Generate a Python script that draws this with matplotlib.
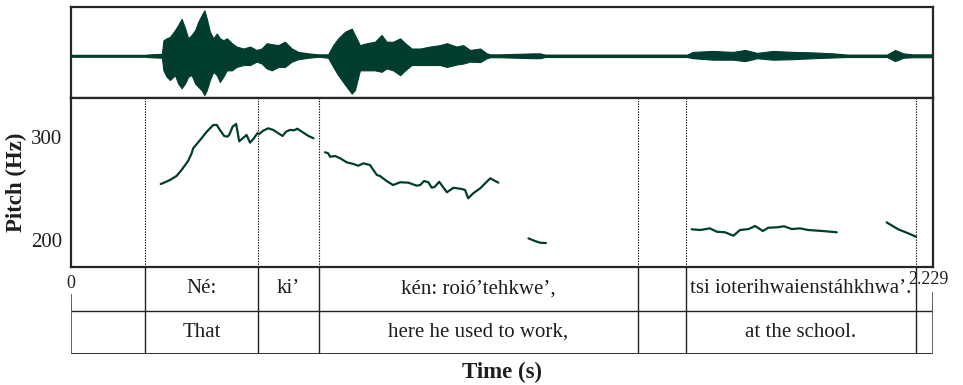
import matplotlib
matplotlib.use('Agg')
import matplotlib.pyplot as plt

plt.rcParams['font.family'] = ['Liberation Serif', 'DejaVu Serif']

# ---------------- data ----------------
DUR = 2.229
boundaries = [0.192, 0.484, 0.640, 1.466, 1.590, 2.185]
tier1_labels = ['', 'Né:', 'ki’', 'kén: roió’tehkwe’,', '', 'tsi ioterihwaienstáhkhwa’.', '']
tier2_labels = ['', 'That', '', 'here he used to work,', '', 'at the school.', '']

wave_t = [0.000, 0.191, 0.204, 0.235, 0.239, 0.247, 0.256, 0.269, 0.277, 0.286, 0.295, 0.303,
          0.312, 0.321, 0.329, 0.338, 0.345, 0.351, 0.359, 0.368, 0.377, 0.385, 0.394, 0.403,
          0.416, 0.428, 0.446, 0.463, 0.480, 0.493, 0.506, 0.519, 0.536, 0.553, 0.571, 0.588,
          0.614, 0.640, 0.665, 0.678, 0.691, 0.709, 0.726, 0.734, 0.747, 0.765, 0.786, 0.803,
          0.816, 0.833, 0.851, 0.864, 0.881, 0.903, 0.928, 0.954, 0.972, 0.997, 1.014, 1.032,
          1.058, 1.075, 1.084, 1.109, 1.195, 1.213, 1.226, 1.368, 1.593, 1.608, 1.660, 1.712,
          1.743, 1.774, 1.815, 1.867, 1.919, 1.971, 2.007, 2.110, 2.131, 2.152, 2.177, 2.229]
wave_top = [0.02, 0.02, 0.03, 0.04, 0.32, 0.36, 0.39, 0.53, 0.63, 0.76, 0.57, 0.36,
            0.43, 0.53, 0.70, 0.84, 0.94, 0.77, 0.50, 0.36, 0.46, 0.36, 0.32, 0.36,
            0.26, 0.19, 0.15, 0.19, 0.12, 0.15, 0.26, 0.24, 0.22, 0.29, 0.15, 0.08,
            0.05, 0.03, 0.03, 0.22, 0.36, 0.50, 0.56, 0.43, 0.22, 0.26, 0.29, 0.43,
            0.29, 0.29, 0.36, 0.26, 0.15, 0.15, 0.19, 0.22, 0.26, 0.19, 0.22, 0.12,
            0.15, 0.05, 0.03, 0.03, 0.05, 0.05, 0.025, 0.025, 0.025, 0.08, 0.10, 0.08,
            0.12, 0.06, 0.10, 0.08, 0.07, 0.05, 0.025, 0.025, 0.12, 0.05, 0.03, 0.03]
wave_bot = [-0.02, -0.02, -0.03, -0.04, -0.30, -0.43, -0.50, -0.40, -0.57, -0.67, -0.57, -0.43,
            -0.40, -0.57, -0.64, -0.71, -0.81, -0.71, -0.50, -0.33, -0.40, -0.54, -0.43, -0.30,
            -0.30, -0.23, -0.19, -0.19, -0.12, -0.16, -0.26, -0.30, -0.23, -0.23, -0.12, -0.07,
            -0.04, -0.02, -0.04, -0.23, -0.40, -0.60, -0.78, -0.71, -0.30, -0.30, -0.30, -0.33,
            -0.26, -0.30, -0.40, -0.30, -0.19, -0.19, -0.19, -0.19, -0.23, -0.18, -0.16, -0.12,
            -0.13, -0.05, -0.03, -0.03, -0.05, -0.05, -0.025, -0.025, -0.025, -0.05, -0.08, -0.08,
            -0.11, -0.05, -0.08, -0.07, -0.05, -0.035, -0.025, -0.025, -0.11, -0.04, -0.03, -0.03]

pitch1_t = [0.232, 0.243, 0.256, 0.273, 0.286, 0.303, 0.312, 0.316, 0.334, 0.351, 0.368, 0.377,
            0.385, 0.396, 0.404, 0.409, 0.418, 0.427, 0.435, 0.454, 0.463, 0.473, 0.482, 0.487,
            0.497, 0.510, 0.523, 0.547, 0.556, 0.566, 0.577, 0.585, 0.597, 0.614, 0.627]
pitch1_hz = [254.2, 255.9, 258.1, 262.0, 267.8, 276.6, 283.9, 288.8, 296.8, 304.8, 311.3, 311.3,
             306.5, 300.7, 300.0, 301.6, 309.7, 312.3, 295.5, 301.6, 294.2, 298.5, 303.3, 302.6,
             305.8, 308.1, 306.5, 300.7, 304.8, 306.5, 306.2, 307.7, 304.8, 300.7, 298.5]
pitch2_t = [0.657, 0.665, 0.670, 0.683, 0.696, 0.713, 0.730, 0.743, 0.756, 0.773, 0.791, 0.799,
            0.816, 0.833, 0.851, 0.872, 0.894, 0.903, 0.913, 0.924, 0.933, 0.941, 0.952, 0.972,
            0.989, 1.010, 1.019, 1.027, 1.040, 1.058, 1.084, 1.105]
pitch2_hz = [284.9, 283.9, 280.6, 281.3, 279.1, 275.2, 273.6, 271.9, 274.2, 272.6, 262.9, 262.0,
             257.1, 253.2, 255.9, 255.5, 252.6, 253.2, 257.1, 255.9, 250.6, 251.6, 256.4, 246.2,
             250.6, 249.4, 248.4, 240.4, 245.2, 250.0, 259.7, 255.5]
pitch3_t = [1.183, 1.200, 1.213, 1.228]
pitch3_hz = [201.6, 199.0, 197.4, 197.1]
pitch4_t = [1.605, 1.627, 1.652, 1.670, 1.691, 1.713, 1.730, 1.752, 1.769, 1.789, 1.803, 1.825,
            1.844, 1.864, 1.885, 1.906, 1.945, 1.980]
pitch4_hz = [210.4, 209.7, 211.3, 208.0, 207.5, 204.2, 209.7, 210.6, 213.6, 208.7, 211.9, 212.3,
             213.3, 210.6, 211.3, 209.7, 208.7, 207.5]
pitch5_t = [2.109, 2.139, 2.165, 2.185]
pitch5_hz = [217.1, 210.4, 206.5, 203.2]

pitch_ticks = [200, 300]

# ---------------- style ----------------
GREEN = '#003d2e'
FRAME = '#262626'
TXT = '#1e1e1e'
FS = 15
FSB = 16.5

fig = plt.figure(figsize=(9.63, 3.85), dpi=100)
L, W = 71 / 963, 862 / 963
ax_w = fig.add_axes([L, 1 - 97.5 / 385, W, 90.2 / 385])
ax_p = fig.add_axes([L, 1 - 266.7 / 385, W, 169.2 / 385])
ax_t = fig.add_axes([L, 1 - 354.3 / 385, W, 87.6 / 385])

# waveform
ax_w.fill_between(wave_t, wave_bot, wave_top, color=GREEN, lw=0.8, edgecolor=GREEN)
ax_w.plot(wave_t, [0] * len(wave_t), color=GREEN, lw=1.2)
ax_w.set_xlim(0, DUR)
ax_w.set_ylim(-0.86, 1.0)
ax_w.set_xticks([]); ax_w.set_yticks([])
for s in ax_w.spines.values():
    s.set_color(FRAME); s.set_linewidth(1.6)

# pitch
for t, h in [(pitch1_t, pitch1_hz), (pitch2_t, pitch2_hz), (pitch3_t, pitch3_hz),
             (pitch4_t, pitch4_hz), (pitch5_t, pitch5_hz)]:
    ax_p.plot(t, h, color=GREEN, lw=1.6, solid_capstyle='round')
for b in boundaries:
    ax_p.axvline(b, color='#111111', lw=0.8, ls=(0, (1.2, 1.2)))
ax_p.set_xlim(0, DUR)
ax_p.set_ylim(174.2, 337.9)
ax_p.set_xticks([])
ax_p.set_yticks(pitch_ticks)
ax_p.set_yticklabels([str(v) for v in pitch_ticks], fontsize=FS, color=TXT)
ax_p.tick_params(axis='y', length=0, pad=6)
for s in ax_p.spines.values():
    s.set_color(FRAME); s.set_linewidth(1.6)
ax_p.set_ylabel('Pitch (Hz)', fontsize=FSB, fontweight='bold', color=TXT, labelpad=3)

# tiers
ax_t.set_xlim(0, DUR)
ax_t.set_ylim(0, 2)
ax_t.axis('off')
ax_t.plot([0, DUR], [1, 1], color='#222222', lw=1.0)
ax_t.plot([0, DUR], [0, 0], color='#222222', lw=1.3)
ax_t.plot([0, 0], [0, 1.36], color='#555555', lw=1.3)
ax_t.plot([DUR, DUR], [0, 1.40], color='#555555', lw=1.3)
for b in boundaries:
    ax_t.plot([b, b], [0, 2], color='#222222', lw=1.0)
edges = [0] + boundaries + [DUR]
for i in range(len(edges) - 1):
    mid = (edges[i] + edges[i + 1]) / 2
    if tier1_labels[i]:
        ax_t.text(mid, 1.5, tier1_labels[i], ha='center', va='center', fontsize=FS, color=TXT)
    if tier2_labels[i]:
        ax_t.text(mid, 0.5, tier2_labels[i], ha='center', va='center', fontsize=FS, color=TXT)

ax_t.annotate('0', xy=(0, 2), xytext=(0, -6), textcoords='offset points',
              ha='center', va='top', fontsize=13, color=TXT, annotation_clip=False)
ax_t.annotate('%.3f' % DUR, xy=(DUR, 2), xytext=(-3, -3), textcoords='offset points',
              ha='center', va='top', fontsize=13, color=TXT, annotation_clip=False)

fig.text(L + W / 2, 1 - 372 / 385, 'Time (s)', ha='center', va='center',
         fontsize=FSB, fontweight='bold', color=TXT)

fig.savefig('out.png', dpi=100)
